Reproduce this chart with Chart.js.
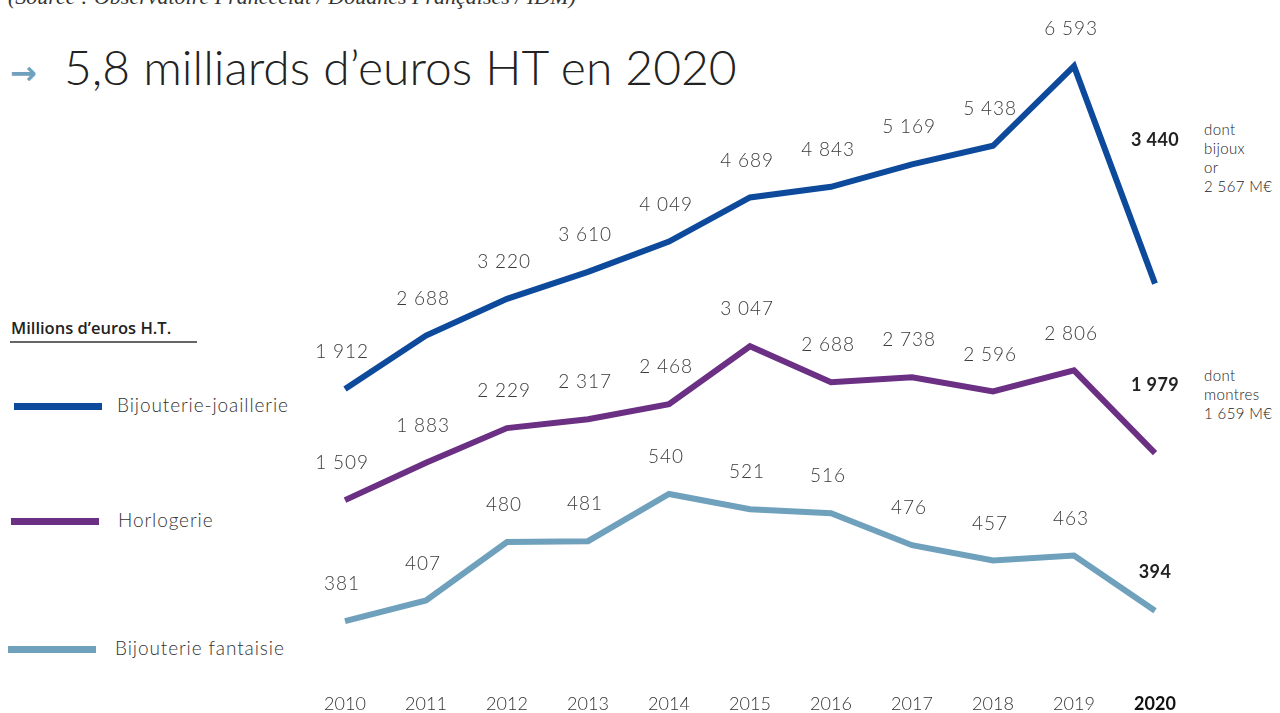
<!DOCTYPE html>
<html lang="fr">
<head>
<meta charset="utf-8">
<script src="https://cdn.jsdelivr.net/npm/chart.js@4.4.1/dist/chart.umd.min.js"></script>
<style>
  html, body { margin:0; padding:0; background:#fff; }
  body { width:1280px; height:713px; position:relative; overflow:hidden; font-family: Lato, "Open Sans", sans-serif; color:#333; }
  #c { position:absolute; left:0; top:0; }
  .abs { position:absolute; white-space:nowrap; }
  #source { left:8px; top:-16px; font-family:"Liberation Serif", "DejaVu Serif", serif; font-style:italic; font-size:22px; color:#333; }
  #arrow { left:10px; top:54px; font-family:"DejaVu Sans", sans-serif; font-size:32px; font-weight:700; color:#6fa1bd; }
  #title { left:64px; top:38px; font-size:48px; font-weight:300; color:#222; }
  #unit { left:11px; top:316px; font-family:"Open Sans", sans-serif; font-size:16.5px; font-weight:600; color:#222; }
  #unitline { left:10px; top:341px; width:187px; height:2px; background:#666; }
  .lg { position:absolute; height:7px; width:88px; }
  .lgt { position:absolute; font-size:19px; letter-spacing:0.9px; font-weight:300; color:#333; white-space:nowrap; }
  .note { position:absolute; left:1204px; font-size:15px; font-weight:300; line-height:19px; color:#222; letter-spacing:0.4px; }
</style>
</head>
<body>
<div id="source" class="abs">(Source : Observatoire Francéclat / Douanes Françaises / IDM)</div>
<div id="arrow" class="abs">→</div>
<div id="title" class="abs">5,8 milliards d’euros HT en 2020</div>
<div id="unit" class="abs">Millions d’euros H.T.</div>
<div id="unitline" class="abs"></div>
<div id="legend"></div>
<div class="note" style="top:120px">dont<br>bijoux<br>or<br>2 567 M€</div>
<div class="note" style="top:366px">dont<br>montres<br>1 659 M€</div>
<canvas id="c" width="1280" height="713"></canvas>
<script>
// ---- data ----
const years = ['2010','2011','2012','2013','2014','2015','2016','2017','2018','2019','2020'];
const seriesNames = ['Bijouterie-joaillerie', 'Horlogerie', 'Bijouterie fantaisie'];
const bijouterieJoaillerie = [1912, 2688, 3220, 3610, 4049, 4689, 4843, 5169, 5438, 6593, 3440];
const horlogerie = [1509, 1883, 2229, 2317, 2468, 3047, 2688, 2738, 2596, 2806, 1979];
const bijouterieFantaisie = [381, 407, 480, 481, 540, 521, 516, 476, 457, 463, 394];

const colors = ['#0d4a9b', '#6b2f84', '#6fa1bd'];

// legend (HTML)
const lgTops = [403, 518, 646];
const lgLefts = [14, 11, 8];
const lgTextLefts = [117, 118, 115];
const legend = document.getElementById('legend');
seriesNames.forEach((n, i) => {
  const bar = document.createElement('div');
  bar.className = 'lg';
  bar.style.left = lgLefts[i] + 'px';
  bar.style.top = lgTops[i] + 'px';
  bar.style.background = colors[i];
  legend.appendChild(bar);
  const t = document.createElement('div');
  t.className = 'lgt';
  t.style.left = lgTextLefts[i] + 'px';
  t.style.top = (lgTops[i] - 10) + 'px';
  t.textContent = n;
  legend.appendChild(t);
});

const fmt = v => String(v).replace(/\B(?=(\d{3})+(?!\d))/g, ' ');

const labelPlugin = {
  id: 'valueLabels',
  afterDatasetsDraw(chart) {
    const ctx = chart.ctx;
    ctx.save();
    ctx.textAlign = 'center';
    ctx.textBaseline = 'middle';
    const lastOffsets = [143, 68, 39];
    chart.data.datasets.forEach((ds, di) => {
      const meta = chart.getDatasetMeta(di);
      meta.data.forEach((pt, i) => {
        const last = i === ds.data.length - 1;
        ctx.fillStyle = last ? '#222' : '#3a3a3a';
        ctx.font = last ? '700 18px Lato, sans-serif' : '300 19px Lato, sans-serif';
        ctx.letterSpacing = last ? '0.4px' : '0.9px';
        const off = last ? lastOffsets[di] : 37;
        ctx.fillText(fmt(ds.data[i]), pt.x + (last ? 0 : -3), pt.y - off);
      });
    });
    ctx.restore();
  }
};

const H = 639;
function axis(s, a) {
  const max = (a - 40) / s;
  return { display: false, min: max - H / s, max: max };
}

new Chart(document.getElementById('c'), {
  type: 'line',
  data: {
    labels: years,
    datasets: [
      { label: seriesNames[0], data: bijouterieJoaillerie, borderColor: colors[0], yAxisID: 'y1' },
      { label: seriesNames[1], data: horlogerie, borderColor: colors[1], yAxisID: 'y2' },
      { label: seriesNames[2], data: bijouterieFantaisie, borderColor: colors[2], yAxisID: 'y3' }
    ].map(d => Object.assign(d, { borderWidth: 6, pointRadius: 0, tension: 0, fill: false, borderCapStyle: 'butt', borderJoinStyle: 'miter' }))
  },
  options: {
    responsive: false,
    animation: false,
    layout: { padding: { left: 345, right: 125, top: 40, bottom: 0 } },
    plugins: { legend: { display: false }, tooltip: { enabled: false } },
    scales: {
      x: {
        offset: false,
        afterFit: s => { s.height = 34; },
        grid: { display: false, drawTicks: false },
        border: { display: false },
        ticks: {
          padding: 15,
          autoSkip: false,
          maxRotation: 0,
          color: ctx => ctx.index === years.length - 1 ? '#111' : '#333',
          font: ctx => ({ family: 'Lato, sans-serif', size: 18, weight: ctx.index === years.length - 1 ? '700' : '300', lineHeight: 1.1 })
        }
      },
      y1: axis(0.069, 521),
      y2: axis(0.1, 651),
      y3: axis(0.8, 926)
    }
  },
  plugins: [labelPlugin]
});
</script>
</body>
</html>
